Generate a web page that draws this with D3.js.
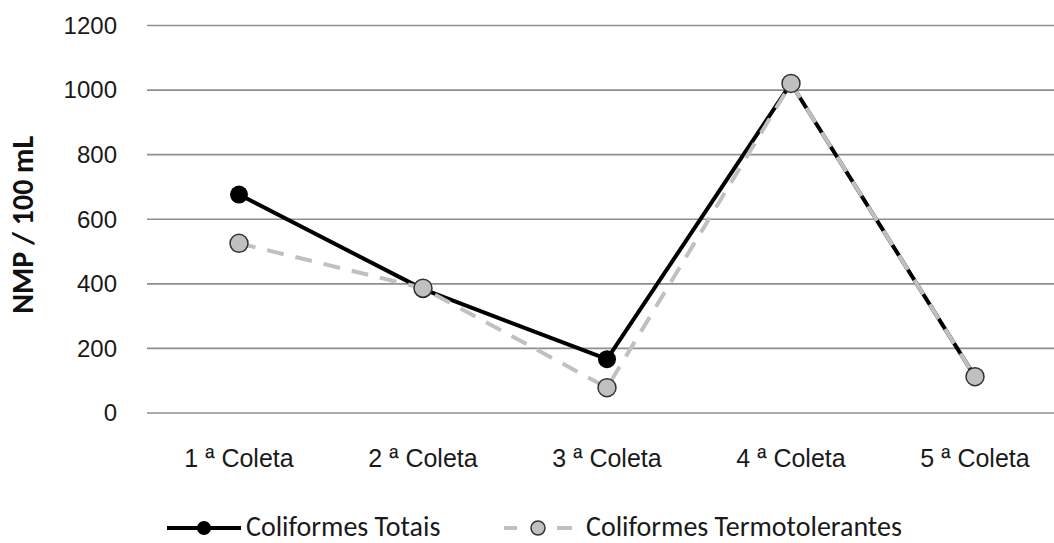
<!DOCTYPE html>
<html>
<head>
<meta charset="utf-8">
<script src="https://cdn.jsdelivr.net/npm/d3@7"></script>
<style>
  html, body { margin: 0; padding: 0; background: #fff; }
  svg { display: block; font-family: Calibri, Carlito, Lato, "Liberation Sans", Arial, sans-serif; }
</style>
</head>
<body>
<svg id="chart" width="1054" height="543"></svg>
<script>
// Coletas (sampling campaigns)
const categories = ["1 ª Coleta", "2 ª Coleta", "3 ª Coleta", "4 ª Coleta", "5 ª Coleta"];
// NMP / 100 mL per coleta
const coliformesTotais = [675, 382, 165, 1019, 111];
const coliformesTermotolerantes = [524, 385, 77, 1019, 111];
const yTicks = [0, 200, 400, 600, 800, 1000, 1200];
const seriesNames = ["Coliformes Totais", "Coliformes Termotolerantes"];

const svg = d3.select("#chart");

const plot = { left: 147, right: 1067, top: 25, bottom: 412.5 };

const x = d3.scaleBand().domain(categories).range([plot.left, plot.right]);
const y = d3.scaleLinear().domain([0, 1200]).range([plot.bottom, plot.top]);
const cx = d => x(d) + x.bandwidth() / 2;

// horizontal gridlines + tick labels
const yAxis = d3.axisLeft(y).tickValues(yTicks).tickFormat(d3.format("d"))
  .tickSize(-(plot.right - plot.left)).tickPadding(30);
const gy = svg.append("g").attr("transform", `translate(${plot.left},0)`).call(yAxis);
gy.select(".domain").remove();
gy.selectAll(".tick line").attr("stroke", "#8e8e8e").attr("stroke-width", 1.6);
gy.selectAll(".tick text")
  .attr("fill", "#1a1a1a")
  .style("font-size", "24px")
  .attr("dy", "0.35em");

// category labels
const xAxis = d3.axisBottom(x).tickSize(0).tickPadding(0);
const gx = svg.append("g").attr("transform", `translate(0,${plot.bottom + 46})`).call(xAxis);
gx.select(".domain").remove();
gx.selectAll(".tick text")
  .attr("fill", "#1a1a1a")
  .attr("dy", "0.35em")
  .style("font-size", "25px");

// y-axis title
svg.append("text")
  .attr("transform", `translate(33,${(plot.top + plot.bottom) / 2 + 6}) rotate(-90)`)
  .attr("text-anchor", "middle")
  .style("font-size", "30px")
  .style("font-weight", "bold")
  .attr("fill", "#111")
  .text("NMP / 100 mL");

const line = d3.line().x((d, i) => cx(categories[i])).y(d => y(d));

// Coliformes Totais: solid black
svg.append("path")
  .datum(coliformesTotais)
  .attr("d", line)
  .attr("fill", "none")
  .attr("stroke", "#000")
  .attr("stroke-width", 4)
  .attr("stroke-linejoin", "round");

svg.append("g").selectAll("circle")
  .data(coliformesTotais)
  .join("circle")
  .attr("cx", (d, i) => cx(categories[i]))
  .attr("cy", d => y(d))
  .attr("r", 9)
  .attr("fill", "#000");

// Coliformes Termotolerantes: gray dashed
svg.append("path")
  .datum(coliformesTermotolerantes)
  .attr("d", line)
  .attr("fill", "none")
  .attr("stroke", "#c0c0c0")
  .attr("stroke-width", 4)
  .attr("stroke-dasharray", "17,12");

svg.append("g").selectAll("circle")
  .data(coliformesTermotolerantes)
  .join("circle")
  .attr("cx", (d, i) => cx(categories[i]))
  .attr("cy", d => y(d))
  .attr("r", 9)
  .attr("fill", "#c0c0c0")
  .attr("stroke", "#333")
  .attr("stroke-width", 1.5);

// legend
const ly = 528;
const leg = svg.append("g");
leg.append("line").attr("x1", 167).attr("x2", 241).attr("y1", ly).attr("y2", ly)
  .attr("stroke", "#000").attr("stroke-width", 4);
leg.append("circle").attr("cx", 204).attr("cy", ly).attr("r", 7).attr("fill", "#000");
leg.append("text").attr("x", 246).attr("y", ly).attr("dy", "0.3em")
  .style("font-size", "28px").attr("fill", "#1a1a1a").text(seriesNames[0]);

[[504, 517], [557, 572]].forEach(([a, b]) => {
  leg.append("line").attr("x1", a).attr("x2", b).attr("y1", ly).attr("y2", ly)
    .attr("stroke", "#c0c0c0").attr("stroke-width", 4);
});
leg.append("circle").attr("cx", 538).attr("cy", ly).attr("r", 7)
  .attr("fill", "#c0c0c0").attr("stroke", "#333").attr("stroke-width", 1.5);
leg.append("text").attr("x", 586).attr("y", ly).attr("dy", "0.3em")
  .style("font-size", "28px").attr("fill", "#1a1a1a").text(seriesNames[1]);
</script>
</body>
</html>
